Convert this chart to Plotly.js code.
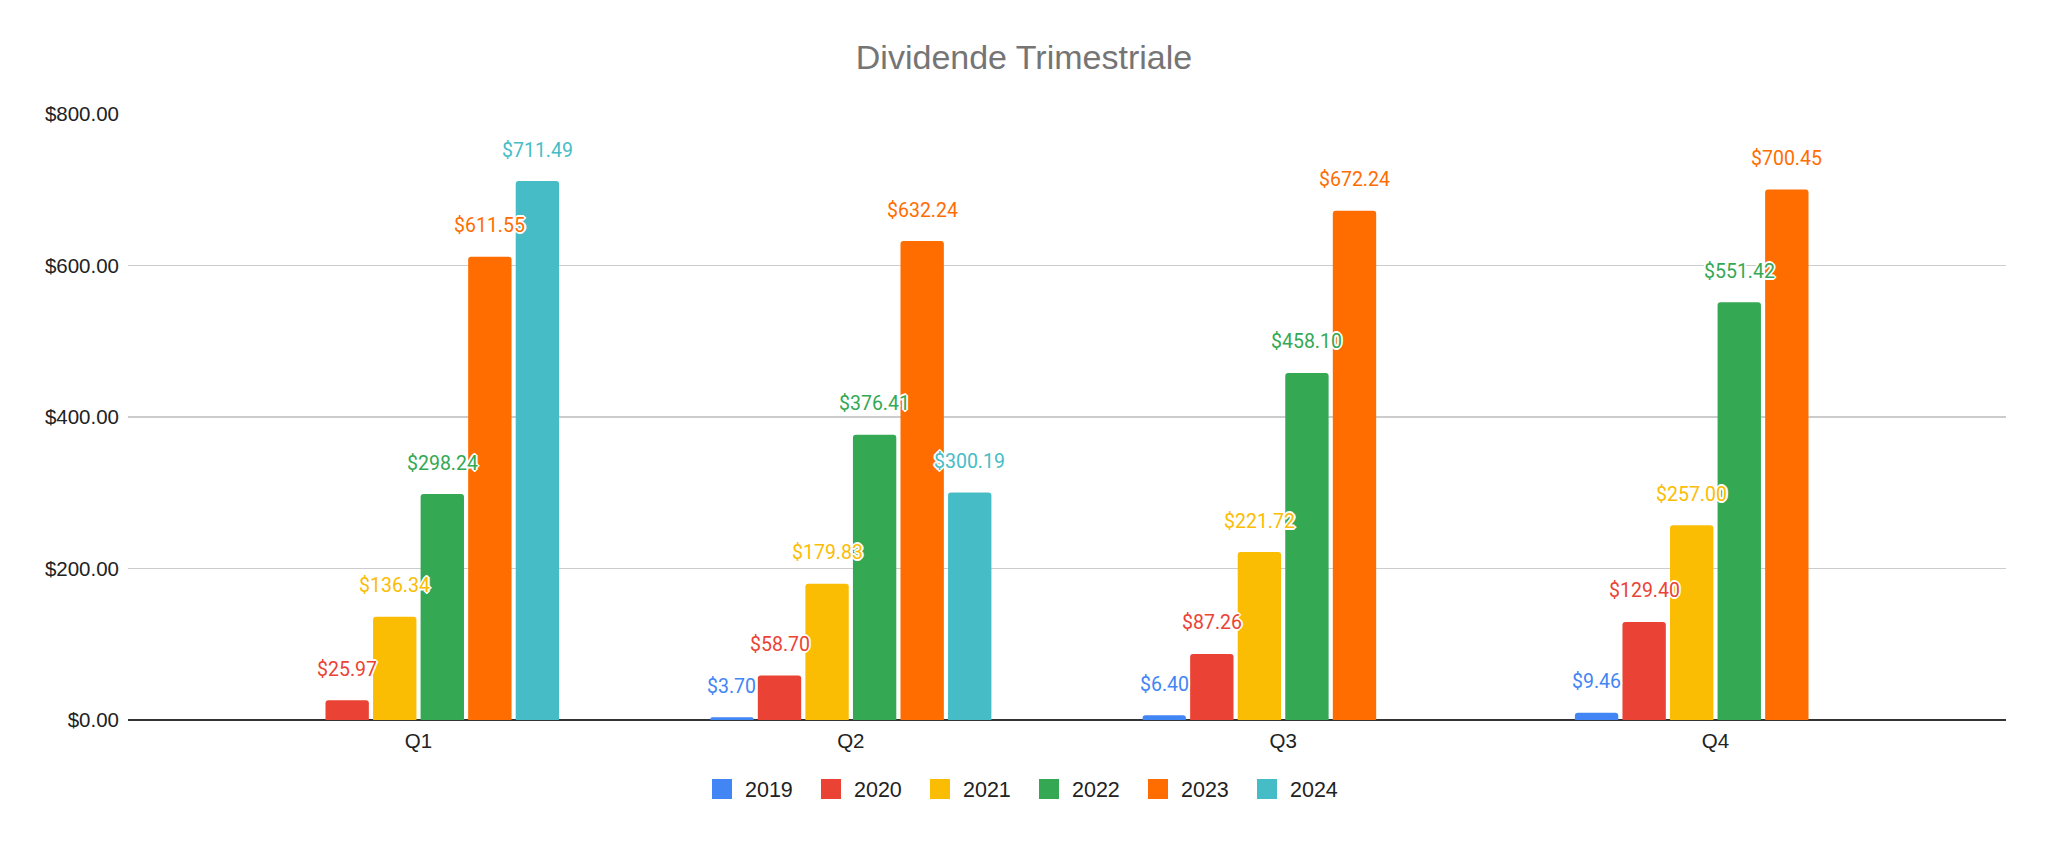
<!DOCTYPE html>
<html>
<head>
<meta charset="utf-8">
<script src="https://cdn.plot.ly/plotly-3.0.1.min.js"></script>
<style>html,body{margin:0;padding:0;background:#fff;}#chart{width:2048px;height:841px;}</style>
</head>
<body>
<div id="chart"></div>
<script>
var quarters = ["Q1", "Q2", "Q3", "Q4"];
var years = ["2019", "2020", "2021", "2022", "2023", "2024"];
var v2019 = [null, 3.70, 6.40, 9.46];
var v2020 = [25.97, 58.70, 87.26, 129.40];
var v2021 = [136.34, 179.83, 221.72, 257.00];
var v2022 = [298.24, 376.41, 458.10, 551.42];
var v2023 = [611.55, 632.24, 672.24, 700.45];
var v2024 = [711.49, 300.19, null, null];
var seriesValues = [v2019, v2020, v2021, v2022, v2023, v2024];
var colors = ["#4285F4", "#EA4335", "#FBBC04", "#34A853", "#FF6D01", "#46BDC6"];

var bargap = 0.34;
var traces = [];
var annotations = [];
var n = years.length;
var slot = (1 - bargap) / n;
var outline = "2px 0 0 #fff, -2px 0 0 #fff, 0 2px 0 #fff, 0 -2px 0 #fff, 1px 1px 0 #fff, -1px -1px 0 #fff, 1px -1px 0 #fff, -1px 1px 0 #fff";
var axisFont = "Liberation Sans, Arial, sans-serif";

for (var i = 0; i < n; i++) {
  traces.push({
    type: "bar",
    name: years[i],
    x: quarters,
    y: seriesValues[i],
    marker: {color: colors[i]},
    showlegend: false,
    hoverinfo: "none"
  });
  for (var q = 0; q < quarters.length; q++) {
    var val = seriesValues[i][q];
    if (val === null) continue;
    annotations.push({
      x: q + (i - (n - 1) / 2) * slot,
      y: val,
      xref: "x",
      yref: "y",
      text: "$" + val.toFixed(2),
      showarrow: false,
      yshift: 31,
      yanchor: "middle",
      xanchor: "center",
      font: {family: "Roboto, Arial, sans-serif", size: 19.5, color: colors[i], shadow: outline}
    });
  }
}
// legend entries (square swatches)
for (var k = 0; k < n; k++) {
  traces.push({
    type: "scatter",
    mode: "markers",
    name: years[k],
    x: [null],
    y: [null],
    marker: {symbol: "square", size: 16, color: colors[k], line: {color: colors[k], width: 4}},
    showlegend: true,
    hoverinfo: "none"
  });
}

var layout = {
  width: 2048,
  height: 841,
  paper_bgcolor: "#ffffff",
  plot_bgcolor: "#ffffff",
  margin: {l: 128, r: 42, t: 114, b: 121},
  barmode: "group",
  bargap: bargap,
  bargroupgap: 0.088,
  barcornerradius: 3,
  title: {
    text: "Dividende Trimestriale",
    font: {family: "Liberation Sans, Arial, sans-serif", size: 34, color: "#757575"},
    x: 0.5, xref: "container", xanchor: "center",
    y: 1 - 57 / 841, yref: "container", yanchor: "middle"
  },
  xaxis: {
    type: "category",
    range: [-0.672, 3.672],
    showgrid: false,
    showline: false,
    zeroline: false,
    ticks: "",
    tickfont: {family: axisFont, size: 20.5, color: "#222222"},
    ticklabelstandoff: 6
  },
  yaxis: {
    range: [0, 800],
    dtick: 200,
    tickformat: "$.2f",
    gridcolor: "#cccccc",
    gridwidth: 1.5,
    zeroline: true,
    zerolinecolor: "#333333",
    zerolinewidth: 2,
    showline: false,
    ticks: "",
    tickfont: {family: axisFont, size: 20.5, color: "#222222"},
    ticklabelstandoff: 8
  },
  legend: {
    orientation: "h",
    x: (1026 - 128) / 1878,
    xanchor: "center",
    y: (720 - 789) / 606,
    yanchor: "middle",
    itemwidth: 36,
    entrywidth: 58,
    entrywidthmode: "pixels",
    font: {family: axisFont, size: 21.5, color: "#222222"},
    traceorder: "normal"
  },
  annotations: annotations,
  showlegend: true
};

Plotly.newPlot("chart", traces, layout, {staticPlot: true, displayModeBar: false});
</script>
</body>
</html>
